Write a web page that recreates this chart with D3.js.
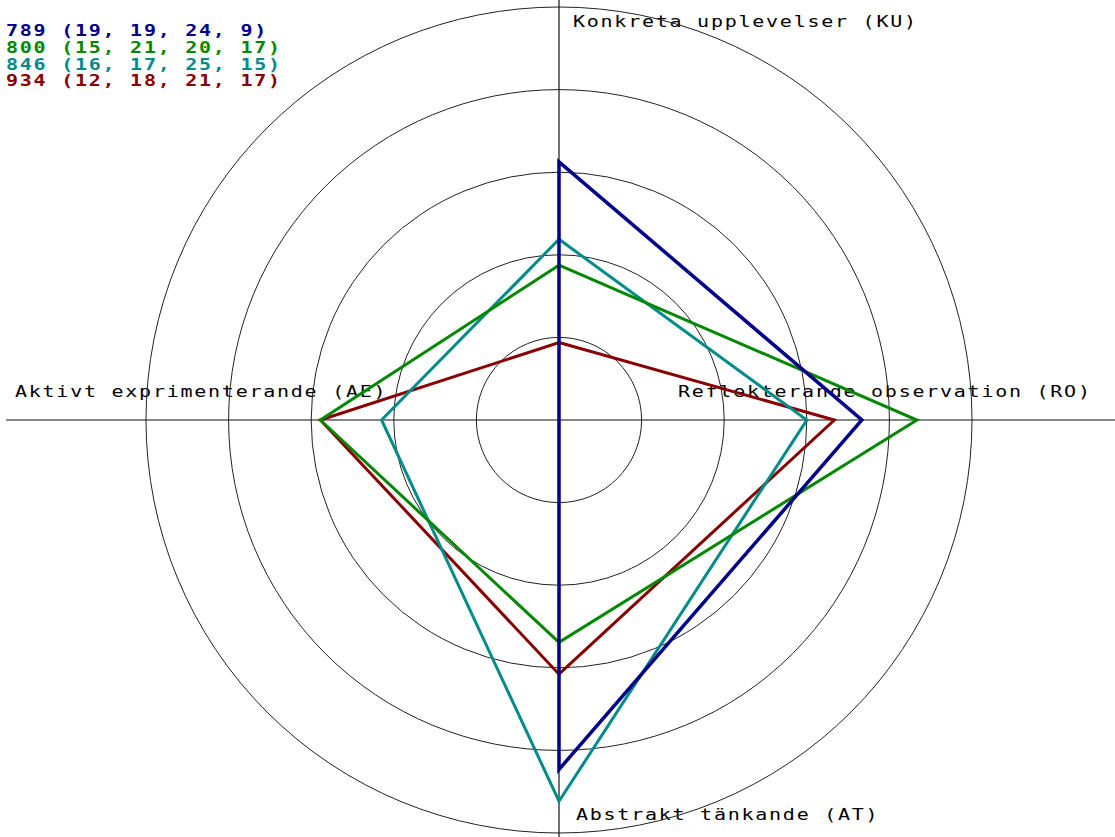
<!DOCTYPE html>
<html>
<head>
<meta charset="utf-8">
<script src="https://cdn.jsdelivr.net/npm/d3@7"></script>
<style>
  html, body { margin: 0; padding: 0; background: #fff; }
  svg { display: block; }
  text { font-family: "DejaVu Sans Mono", "Liberation Mono", monospace; }
</style>
</head>
<body>
<svg id="chart" width="1115" height="837"></svg>
<script>
// ---- data ----
const axes = ["Konkreta upplevelser (KU)", "Reflekterande observation (RO)", "Abstrakt tänkande (AT)", "Aktivt exprimenterande (AE)"];
const axisDomains = [[9, 25], [8, 23], [13, 26], [9.2, 22.7]];
const seriesNames = ["789", "800", "846", "934"];
const seriesValues = [
  [19, 19, 24, 9],
  [15, 21, 20, 17],
  [16, 17, 25, 15],
  [12, 18, 21, 17]
];
const seriesColors = ["#000088", "#008800", "#008b8b", "#880000"];
const ringLevels = [1, 2, 3, 4, 5];

// ---- layout ----
const W = 1115, H = 837;
const cx = 559, cy = 420;
const R = 413;
const svg = d3.select("#chart");

const rScale = d3.scaleLinear().domain([0, 5]).range([0, R]);
const valueScales = axisDomains.map(d => d3.scaleLinear().domain(d).range([0, 5]).clamp(true));
const angle = i => -Math.PI / 2 + i * Math.PI / 2;

const g = svg.append("g");

// labels (drawn first, lines overlay them)
const labelPos = [
  {x: cx + 14, y: 27},
  {x: 678, y: 397},
  {x: cx + 17, y: 820},
  {x: 15, y: 397}
];
const sx = 1.25, ls = 1.4;
g.selectAll("text.axis-label").data(axes).join("text")
  .attr("class", "axis-label")
  .attr("transform", (d, i) => `translate(${labelPos[i].x},${labelPos[i].y}) scale(${sx},1)`)
  .attr("font-size", 16)
  .attr("letter-spacing", ls)
  .attr("fill", "#000")
  .text(d => d);

// rings
g.selectAll("circle.ring").data(ringLevels).join("circle")
  .attr("class", "ring")
  .attr("cx", cx).attr("cy", cy)
  .attr("r", d => rScale(d))
  .attr("fill", "none")
  .attr("stroke", "#222")
  .attr("stroke-width", 1);

// axis lines
g.append("line").attr("x1", 6).attr("x2", W).attr("y1", cy).attr("y2", cy)
  .attr("stroke", "#111").attr("stroke-width", 1.2);
g.append("line").attr("x1", cx).attr("x2", cx).attr("y1", 0).attr("y2", H)
  .attr("stroke", "#111").attr("stroke-width", 1.2);

// polygons
const pointsFor = vals => vals.map((v, i) => {
  const r = rScale(valueScales[i](v));
  return [cx + r * Math.cos(angle(i)), cy + r * Math.sin(angle(i))];
});
const line = d3.line().curve(d3.curveLinearClosed);
const order = [3, 2, 1, 0];
g.selectAll("path.series").data(order).join("path")
  .attr("class", "series")
  .attr("d", k => line(pointsFor(seriesValues[k])))
  .attr("fill", "none")
  .attr("stroke", k => seriesColors[k])
  .attr("stroke-width", k => k === 0 ? 3.5 : 3)
  .attr("stroke-linejoin", "miter");

// legend
g.selectAll("text.legend").data(seriesNames).join("text")
  .attr("class", "legend")
  .attr("transform", (d, i) => `translate(6,${36 + i * 16.8}) scale(${sx},1)`)
  .attr("font-size", 16)
  .attr("font-weight", "bold")
  .attr("letter-spacing", ls)
  .attr("fill", (d, i) => seriesColors[i])
  .text((d, i) => `${d} (${seriesValues[i].join(", ")})`);
</script>
</body>
</html>
